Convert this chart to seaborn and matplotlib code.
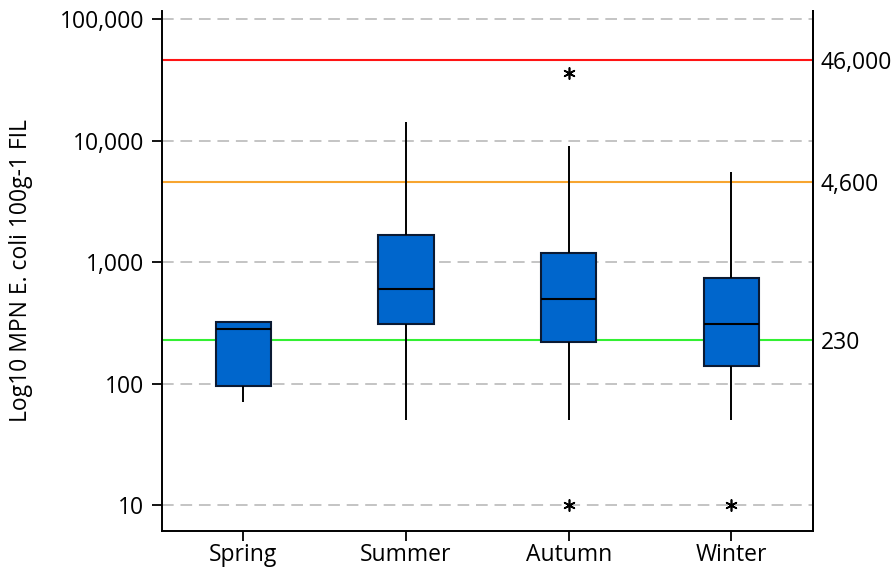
import numpy as np
import pandas as pd
import seaborn as sns
import matplotlib.pyplot as plt
from matplotlib.ticker import FixedLocator, NullLocator
import warnings

warnings.filterwarnings('ignore')

# Five-number summaries per season (MPN E. coli 100g-1 FIL)
seasons = ['Spring', 'Summer', 'Autumn', 'Winter']
whisker_low = [71, 50, 50, 50]
q1 = [96, 311, 221, 140]
median = [282, 600, 500, 311]
q3 = [319, 1690, 1195, 748]
whisker_high = [319, 14200, 9100, 5500]

# Outliers drawn as asterisks
outlier_season = ['Autumn', 'Autumn', 'Winter']
outlier_value = [36000, 10, 10]

# Classification limits
limits = [46000, 4600, 230]
limit_labels = ['46,000', '4,600', '230']
limit_colors = ['#ff1414', '#f7a530', '#33f033']

ytick_values = [10, 100, 1000, 10000, 100000]
ytick_labels = ['10', '100', '1,000', '10,000', '100,000']

rows = []
for i, s in enumerate(seasons):
    for v in (whisker_low[i], q1[i], median[i], q3[i], whisker_high[i]):
        rows.append({'season': s, 'mpn': v})
df = pd.DataFrame(rows)

sns.set_style('ticks')
plt.rcParams['font.family'] = ['Open Sans', 'DejaVu Sans']
plt.rcParams['font.size'] = 16.5
for key in ['text.color', 'axes.labelcolor', 'xtick.color', 'ytick.color']:
    plt.rcParams[key] = 'black'

fig = plt.figure(figsize=(8.95, 5.71), dpi=100)
ax = fig.add_axes([0.181, 0.0705, 0.727, 0.910])

sns.boxplot(
    data=df, x='season', y='mpn', order=seasons,
    log_scale=True, whis=(0, 100), width=0.34,
    color='#0066cc', saturation=1, linecolor='#0b1a33', linewidth=1.5,
    showcaps=False,
    medianprops=dict(color='#000000', linewidth=1.5),
    whiskerprops=dict(color='#000000', linewidth=1.4),
    ax=ax,
)

sns.stripplot(
    x=outlier_season, y=outlier_value, order=seasons, jitter=False,
    marker=(6, 2, 0), s=8, color='black', linewidth=1.2, zorder=5, ax=ax,
)

for v, c in zip(limits, limit_colors):
    ax.axhline(v, color=c, lw=1.5, zorder=0.9)

ax.set_yscale('log')
ax.set_ylim(6.14, 117000)
ax.set_xlim(-0.5, 3.5)
ax.yaxis.set_major_locator(FixedLocator(ytick_values))
ax.set_yticklabels(ytick_labels)
ax.yaxis.set_minor_locator(NullLocator())
ax.yaxis.grid(True, which='major', linestyle=(0, (6, 3.5)), color='#c4c4c4', lw=1.4)
ax.set_axisbelow(True)

ax.set_xlabel('')
ax.set_ylabel('Log10 MPN E. coli 100g-1 FIL', fontsize=16.5)
ax.yaxis.set_label_coords(-0.198, 0.5)
ax.tick_params(axis='y', labelsize=16.5, length=7, width=1.3, color='black', pad=6)
ax.tick_params(axis='x', labelsize=16.5, length=7, width=1.3, color='black', pad=2)

for side in ['left', 'bottom', 'right']:
    ax.spines[side].set_visible(True)
    ax.spines[side].set_color('black')
    ax.spines[side].set_linewidth(1.4)
ax.spines['top'].set_visible(False)

ax2 = ax.twinx()
ax2.set_yscale('log')
ax2.set_ylim(ax.get_ylim())
ax2.yaxis.set_major_locator(FixedLocator(limits))
ax2.set_yticklabels(limit_labels)
ax2.yaxis.set_minor_locator(NullLocator())
ax2.tick_params(axis='y', labelsize=16.5, length=0, pad=6)
for side in ['top', 'left', 'bottom']:
    ax2.spines[side].set_visible(False)
ax2.spines['right'].set_linewidth(1.4)
ax2.spines['right'].set_color('black')

fig.savefig('out.png', dpi=100)
